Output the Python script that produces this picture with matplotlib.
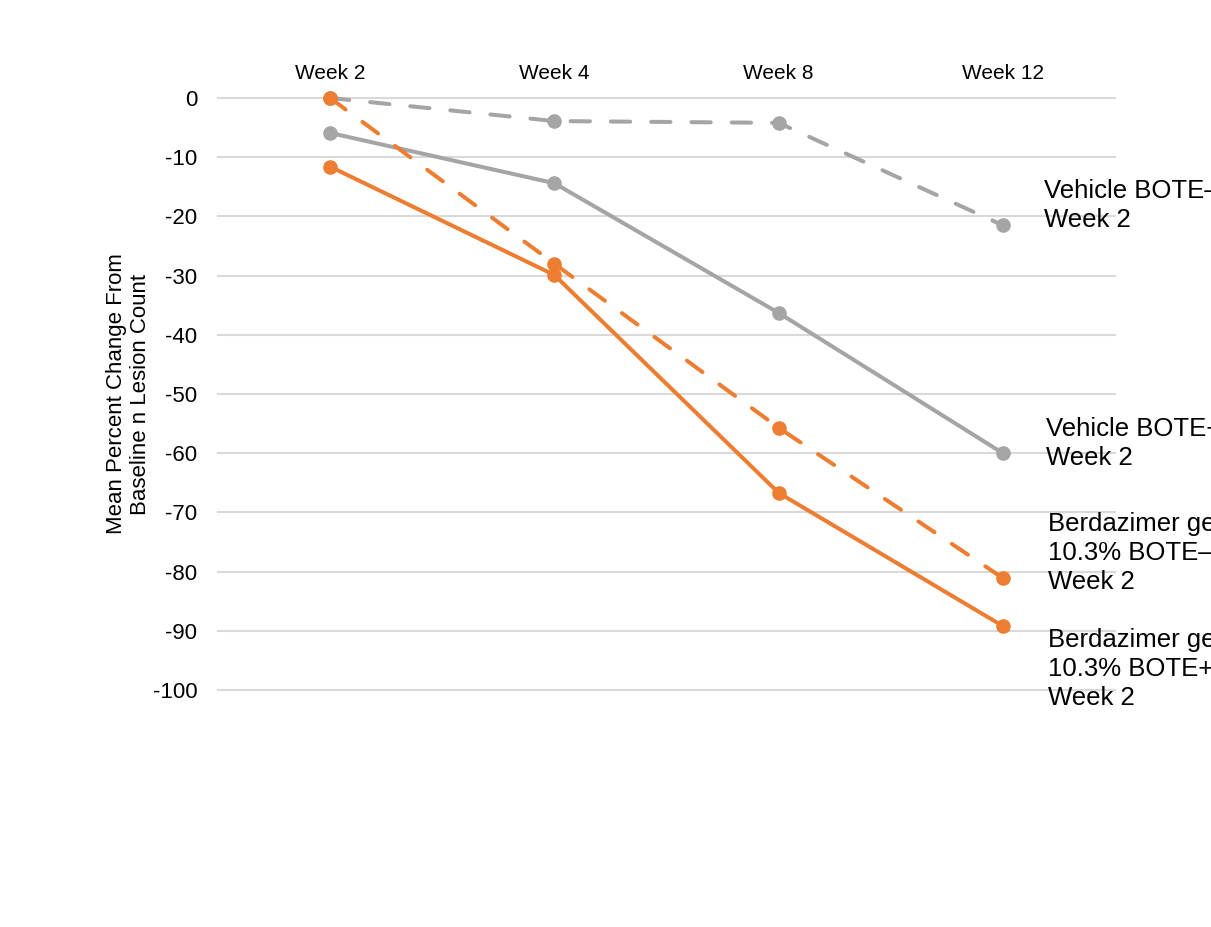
import matplotlib
matplotlib.use("Agg")
from matplotlib import pyplot as plt

plt.rcParams["font.family"] = ["Liberation Sans", "DejaVu Sans"]
plt.rcParams["axes.unicode_minus"] = False

# Data
weeks = ["Week 2", "Week 4", "Week 8", "Week 12"]
vehicle_bote_neg = [0.0, -3.9, -4.2, -21.5]
vehicle_bote_pos = [-5.9, -14.4, -36.3, -60.0]
berd_bote_neg = [0.0, -28.0, -55.7, -81.1]
berd_bote_pos = [-11.6, -29.9, -66.7, -89.2]

series_labels = [
    "Vehicle BOTE\u2013\nWeek 2",
    "Vehicle BOTE+\nWeek 2",
    "Berdazimer gel\n10.3% BOTE\u2013\nWeek 2",
    "Berdazimer gel\n10.3% BOTE+\nWeek 2",
]

GRAY = "#A5A5A5"
ORANGE = "#ED7D31"

fig = plt.figure(figsize=(12.11, 9.27), dpi=100)
ax = fig.add_axes([0.18, 0.2557, 0.7407, 0.6386])

x = list(range(len(weeks)))

styles = [
    (vehicle_bote_neg, GRAY, True, (41, 20)),
    (vehicle_bote_pos, GRAY, False, (43, 10)),
    (berd_bote_neg, ORANGE, True, (45, 25)),
    (berd_bote_pos, ORANGE, False, (45, -43)),
]

for (vals, color, dashed, off), label in zip(styles, series_labels):
    line, = ax.plot(x, vals, color=color, linewidth=2.9, marker="o",
                    markersize=9.5, clip_on=False, zorder=3,
                    solid_capstyle="round")
    if dashed:
        line.set_linestyle((0, (4.8, 5.2)))
        line.set_dash_capstyle("round")
    # Excel-style data label next to the last point (clipped by the figure edge like the original)
    ax.annotate(label, xy=(x[-1], vals[-1]), xytext=(off[0] * 0.72, off[1] * 0.72),
                textcoords="offset points", ha="left", va="center",
                fontsize=18.5, linespacing=1.27, annotation_clip=False)

ax.set_xlim(-0.5, 3.5)
ax.set_ylim(-100, 0)
ax.set_yticks(range(0, -101, -10))
ax.set_xticks(x)
ax.set_xticklabels(weeks)
ax.xaxis.tick_top()
ax.tick_params(axis="x", length=0, pad=11, labelsize=15)
ax.tick_params(axis="y", length=0, pad=15, labelsize=16)

ax.grid(axis="y", color="#D9D9D9", linewidth=1.5, clip_on=False)
ax.set_axisbelow(True)
for sp in ax.spines.values():
    sp.set_visible(False)

ax.set_ylabel("Mean Percent Change From\nBaseline n Lesion Count",
              fontsize=16, linespacing=1.2, labelpad=1)

fig.savefig("out.png", dpi=100)
